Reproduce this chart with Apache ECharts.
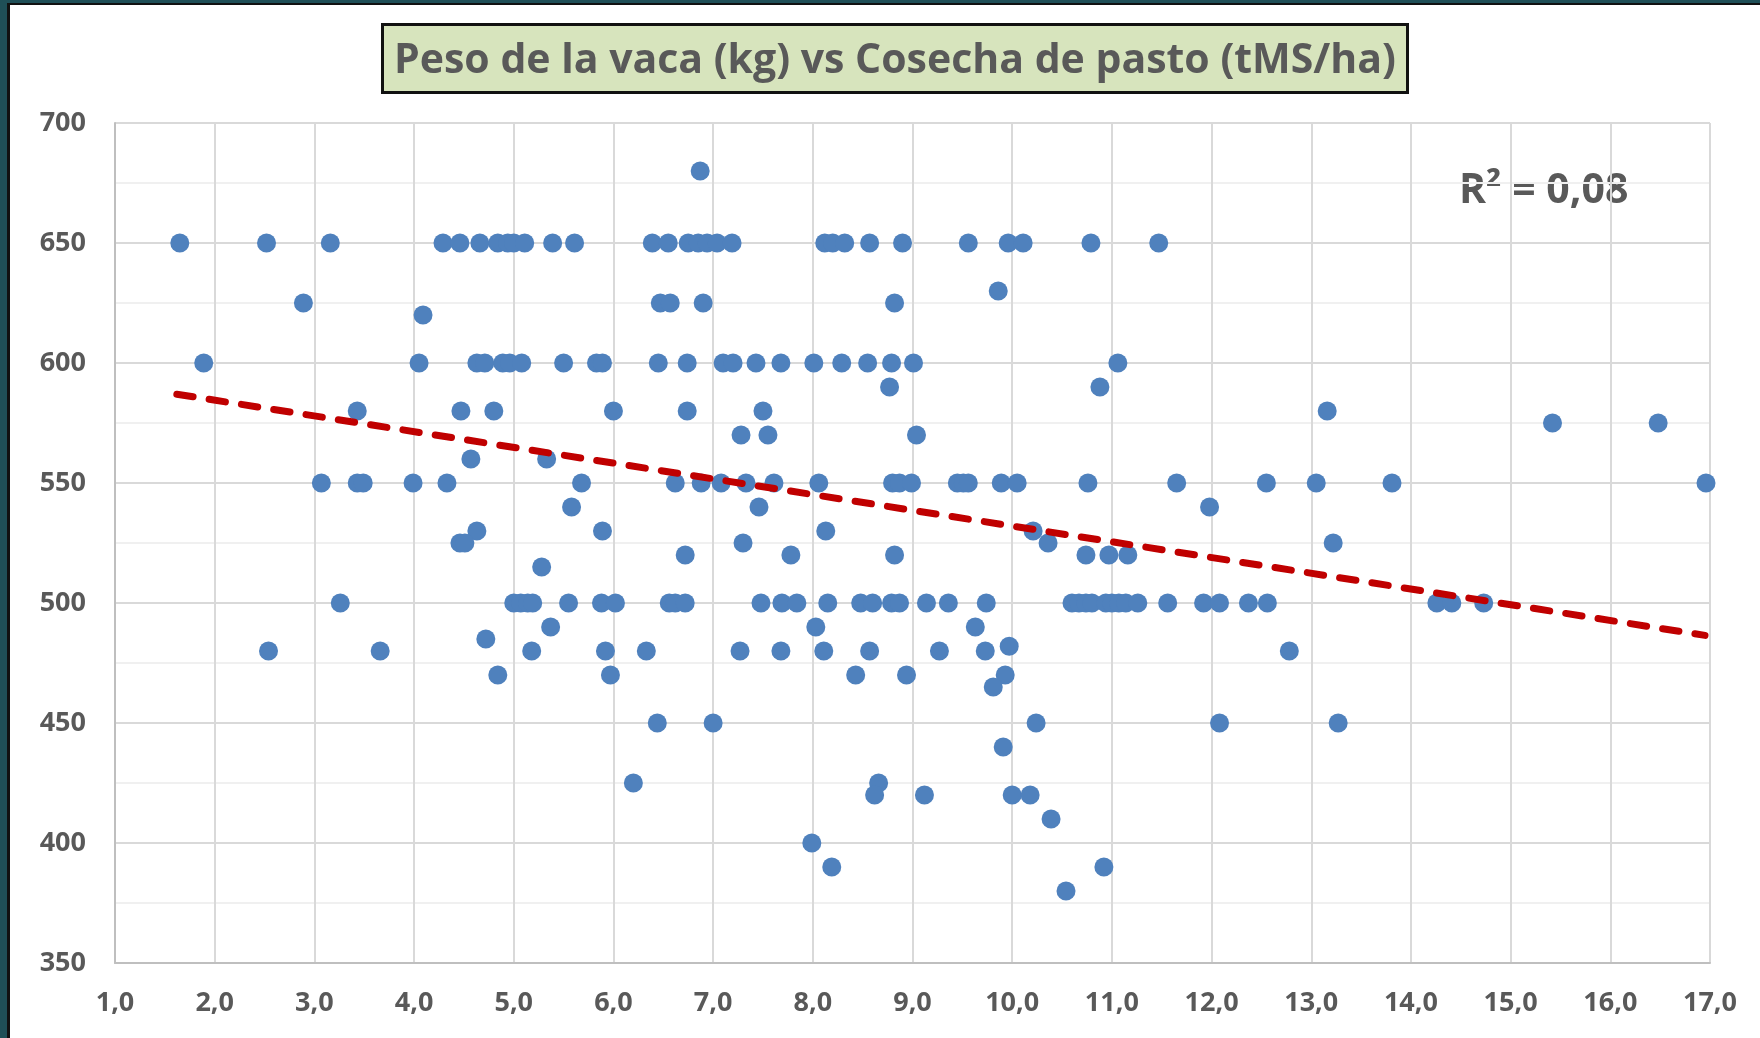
<!DOCTYPE html>
<html>
<head>
<meta charset="utf-8">
<script src="https://cdn.jsdelivr.net/npm/echarts@6/dist/echarts.min.js"></script>
<style>
  html, body { margin: 0; padding: 0; background: #fff; }
  #chart { width: 1760px; height: 1038px; }
</style>
</head>
<body>
<div id="chart"></div>
<script>
// cosecha de pasto (tMS/ha) agrupada por peso de la vaca (kg)
const x650 = [1.65, 2.52, 3.16, 4.29, 4.46, 4.66, 4.84, 4.94, 5.0, 5.11, 5.39, 5.61, 6.39, 6.55, 6.75, 6.85, 6.94, 7.04, 7.19, 8.12, 8.2, 8.32, 8.57, 8.9, 9.56, 9.96, 10.11, 10.79, 11.47]
const x600 = [1.89, 4.05, 4.63, 4.71, 4.89, 4.96, 5.08, 5.5, 5.83, 5.89, 6.45, 6.74, 7.1, 7.2, 7.43, 7.68, 8.01, 8.29, 8.55, 8.79, 9.01, 11.06]
const x550 = [3.07, 3.43, 3.49, 3.99, 4.33, 5.68, 6.62, 6.88, 7.08, 7.33, 7.61, 8.06, 8.8, 8.87, 8.99, 9.45, 9.51, 9.56, 9.89, 10.05, 10.76, 11.65, 12.55, 13.05, 13.81, 16.96]
const x500 = [3.26, 5.0, 5.07, 5.14, 5.19, 5.55, 5.88, 6.02, 6.56, 6.62, 6.72, 7.48, 7.69, 7.84, 8.15, 8.48, 8.6, 8.79, 8.87, 9.14, 9.36, 9.74, 10.6, 10.67, 10.74, 10.8, 10.94, 11.0, 11.07, 11.14, 11.26, 11.56, 11.92, 12.08, 12.37, 12.56, 14.26, 14.41, 14.73]
const x480 = [2.54, 3.66, 5.18, 5.92, 6.33, 7.27, 7.68, 8.11, 8.57, 9.27, 9.73, 12.78]
// puntos sueltos [tMS/ha, kg]
const otherPoints = [
  [6.87, 680], [9.86, 630],
  [2.89, 625], [6.47, 625], [6.57, 625], [6.9, 625], [8.82, 625],
  [4.09, 620],
  [8.77, 590], [10.88, 590],
  [3.43, 580], [4.47, 580], [4.8, 580], [6.0, 580], [6.74, 580], [7.5, 580], [13.16, 580],
  [15.42, 575], [16.48, 575],
  [7.28, 570], [7.55, 570], [9.04, 570],
  [4.57, 560], [5.33, 560],
  [5.58, 540], [7.46, 540], [11.98, 540],
  [4.63, 530], [5.89, 530], [8.13, 530], [10.21, 530],
  [4.46, 525], [4.51, 525], [7.3, 525], [10.36, 525], [13.22, 525],
  [6.72, 520], [7.78, 520], [8.82, 520], [10.74, 520], [10.97, 520], [11.16, 520],
  [5.28, 515],
  [5.37, 490], [8.03, 490], [9.63, 490],
  [4.72, 485], [9.97, 482],
  [4.84, 470], [5.97, 470], [8.43, 470], [8.94, 470], [9.93, 470],
  [9.81, 465],
  [6.44, 450], [7.0, 450], [10.24, 450], [12.08, 450], [13.27, 450],
  [9.91, 440],
  [6.2, 425], [8.66, 425],
  [8.62, 420], [9.12, 420], [10.0, 420], [10.18, 420],
  [10.39, 410], [7.99, 400],
  [8.19, 390], [10.92, 390], [10.54, 380]
]
// extremos de la línea de tendencia
const trendX = [1.62, 16.95]
const trendY = [587, 486.5]
const titleText = 'Peso de la vaca (kg) vs Cosecha de pasto (tMS/ha)'
const r2Text = 'R² = 0,08'

const rows = [[650, x650], [600, x600], [550, x550], [500, x500], [480, x480]]
const scatterData = []
for (const [kg, xs] of rows) {
  for (const x of xs) scatterData.push([x, kg])
}
for (const p of otherPoints) scatterData.push(p)
const trendData = trendX.map((x, i) => [x, trendY[i]])

const labelColor = '#595959'
const font = 'Open Sans'
const chart = echarts.init(document.getElementById('chart'))
chart.setOption({
  backgroundColor: '#fff',
  animation: false,
  title: {
    text: titleText,
    left: 382,
    top: 24,
    padding: [11, 12, 6, 12],
    backgroundColor: '#d7e4bd',
    borderColor: '#111',
    borderWidth: 3,
    textStyle: {
      fontFamily: font,
      fontWeight: 'bold',
      fontSize: 41,
      lineHeight: 52,
      color: labelColor
    }
  },
  graphic: [
    { type: 'rect', shape: { x: 0, y: 0, width: 1760, height: 3 }, style: { fill: '#1f4f57' } },
    { type: 'rect', shape: { x: 0, y: 0, width: 7, height: 1038 }, style: { fill: '#1f4f57' } },
    { type: 'rect', shape: { x: 7, y: 3, width: 1753, height: 2 }, style: { fill: '#111' } },
    { type: 'rect', shape: { x: 7, y: 3, width: 3, height: 1035 }, style: { fill: '#111' } },
    {
      type: 'text',
      x: 1459,
      y: 191,
      style: {
        text: r2Text,
        font: 'bold 41px "Open Sans"',
        fill: labelColor,
        verticalAlign: 'middle'
      }
    }
  ],
  grid: {
    left: 115,
    right: 50,
    top: 123,
    bottom: 75
  },
  xAxis: {
    type: 'value',
    min: 1,
    max: 17,
    interval: 1,
    axisLine: { show: true, lineStyle: { color: '#bfbfbf', width: 2 } },
    axisTick: { show: false },
    axisLabel: {
      margin: 27,
      fontFamily: font,
      fontWeight: 'bold',
      fontSize: 27,
      color: labelColor,
      formatter(v) {
        return v.toFixed(1).replace('.', ',')
      }
    },
    splitLine: { show: true, lineStyle: { color: '#d9d9d9', width: 2 } }
  },
  yAxis: {
    type: 'value',
    min: 350,
    max: 700,
    interval: 50,
    axisLine: { show: true, lineStyle: { color: '#bfbfbf', width: 2 } },
    axisTick: { show: false },
    axisLabel: {
      margin: 29,
      fontFamily: font,
      fontWeight: 'bold',
      fontSize: 27,
      color: labelColor
    },
    splitLine: { show: true, lineStyle: { color: '#d9d9d9', width: 2 } },
    minorTick: { show: false, splitNumber: 2 },
    minorSplitLine: { show: true, lineStyle: { color: '#f0f0f0', width: 2 } }
  },
  series: [
    {
      name: 'Peso',
      type: 'scatter',
      data: scatterData,
      symbolSize: 19,
      itemStyle: { color: '#4f81bd', opacity: 1 },
      z: 2
    },
    {
      name: 'Tendencia',
      type: 'line',
      data: trendData,
      showSymbol: false,
      symbol: 'none',
      lineStyle: { color: '#c00000', width: 7, type: [16.5, 16.2], cap: 'round' },
      z: 3
    }
  ]
})
</script>
</body>
</html>
